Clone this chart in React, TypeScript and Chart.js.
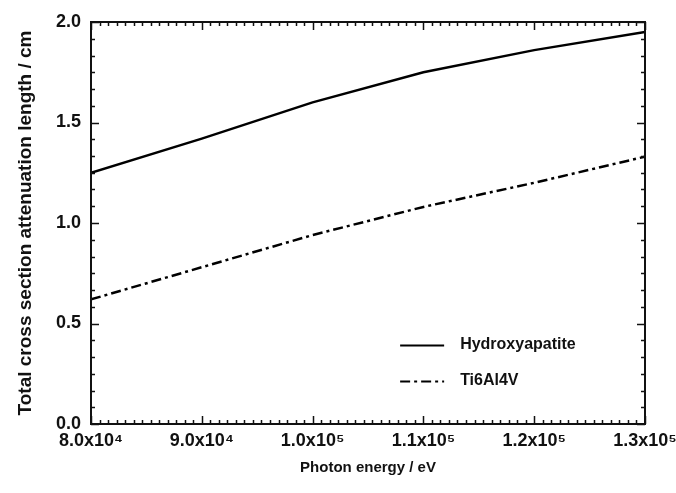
import { useEffect, useRef } from 'react';
import { Chart, registerables } from 'chart.js';

Chart.register(...registerables);

// ---- data ----
const energies = [80000, 90000, 100000, 110000, 120000, 130000];
const hydroxyapatite = [1.25, 1.42, 1.6, 1.75, 1.86, 1.95];
const ti6al4v = [0.62, 0.78, 0.94, 1.08, 1.2, 1.33];
const seriesLabels = ['Hydroxyapatite', 'Ti6Al4V'];
const xTickValues = [80000, 90000, 100000, 110000, 120000, 130000];
const xTickLabels = ['8.0x10⁴', '9.0x10⁴', '1.0x10⁵', '1.1x10⁵', '1.2x10⁵', '1.3x10⁵'];
const yTickValues = [0, 0.5, 1, 1.5, 2];
const yTickLabels = ['0.0', '0.5', '1.0', '1.5', '2.0'];
const xTitle = 'Photon energy / eV';
const yTitle = 'Total cross section attenuation length / cm';

const FONT = '"Liberation Sans", Arial, Helvetica, sans-serif';
const INK = '#111';

const frameTicksPlugin = {
  id: 'frameTicks',
  afterDatasetsDraw(chart: any) {
    const { ctx, chartArea: a, scales } = chart;
    const xs = scales.x;
    const ys = scales.y;
    ctx.save();
    ctx.strokeStyle = INK;
    ctx.lineWidth = 2;
    ctx.strokeRect(a.left, a.top, a.right - a.left, a.bottom - a.top);
    ctx.lineWidth = 1.5;
    ctx.beginPath();
    const xMajor = 10000;
    const xSub = 13;
    for (let i = 0; i <= ((xs.max - xs.min) / xMajor) * xSub; i++) {
      const v = xs.min + (i * xMajor) / xSub;
      const px = Math.round(xs.getPixelForValue(v)) + 0.5;
      const len = i % xSub === 0 ? 8 : 4;
      ctx.moveTo(px, a.bottom);
      ctx.lineTo(px, a.bottom - len);
      ctx.moveTo(px, a.top);
      ctx.lineTo(px, a.top + len);
    }
    const yMajor = 0.5;
    const ySub = 6;
    for (let i = 0; i <= ((ys.max - ys.min) / yMajor) * ySub; i++) {
      const v = ys.min + (i * yMajor) / ySub;
      const py = Math.round(ys.getPixelForValue(v)) + 0.5;
      const len = i % ySub === 0 ? 8 : 4;
      ctx.moveTo(a.left, py);
      ctx.lineTo(a.left + len, py);
      ctx.moveTo(a.right, py);
      ctx.lineTo(a.right - len, py);
    }
    ctx.stroke();
    ctx.restore();
  },
};

const legendPlugin = {
  id: 'innerLegend',
  afterDatasetsDraw(chart: any) {
    const { ctx } = chart;
    const xs = chart.scales.x;
    const ys = chart.scales.y;
    const x0 = xs.getPixelForValue(107900);
    const y0 = ys.getPixelForValue(0.393);
    const rowGap = 36;
    ctx.save();
    chart.data.datasets.forEach((ds: any, i: number) => {
      const y = Math.round(y0 + i * rowGap) + 0.5;
      ctx.strokeStyle = ds.borderColor;
      ctx.lineWidth = 2;
      ctx.setLineDash(ds.borderDash || []);
      ctx.beginPath();
      ctx.moveTo(x0, y);
      ctx.lineTo(x0 + 44, y);
      ctx.stroke();
      ctx.setLineDash([]);
      ctx.fillStyle = INK;
      ctx.font = `bold 16px ${FONT}`;
      ctx.textBaseline = 'middle';
      ctx.textAlign = 'left';
      ctx.fillText(ds.label, x0 + 60, y - 1);
    });
    ctx.restore();
  },
};

export default function App() {
  const ref = useRef<HTMLCanvasElement | null>(null);
  useEffect(() => {
    if (!ref.current) return;
    const chart = new Chart(ref.current, {
      type: 'line',
      data: {
        datasets: [
          {
            label: seriesLabels[0],
            data: energies.map((x, i) => ({ x, y: hydroxyapatite[i] })),
            borderColor: '#000',
            borderWidth: 2.5,
            pointRadius: 0,
            tension: 0,
            fill: false,
          },
          {
            label: seriesLabels[1],
            data: energies.map((x, i) => ({ x, y: ti6al4v[i] })),
            borderColor: '#000',
            borderWidth: 2.5,
            borderDash: [10, 4, 3, 4],
            pointRadius: 0,
            tension: 0,
            fill: false,
          },
        ],
      },
      options: {
        animation: false,
        responsive: false,
        events: [],
        layout: { padding: { left: 0, top: 22, right: 31, bottom: 0 } },
        plugins: {
          legend: { display: false },
          tooltip: { enabled: false },
        },
        scales: {
          x: {
            type: 'linear',
            min: 80000,
            max: 130000,
            afterBuildTicks: (s: any) => {
              s.ticks = xTickValues.map((v) => ({ value: v }));
            },
            afterFit: (s: any) => {
              s.height = 69;
              s.paddingLeft = 0;
              s.paddingRight = 0;
            },
            grid: { display: false, drawTicks: false },
            border: { display: false },
            ticks: {
              padding: 6,
              maxRotation: 0,
              autoSkip: false,
              color: INK,
              font: { family: FONT, size: 18, weight: 'bold' },
              callback: (v: any) => {
                const i = xTickValues.indexOf(Number(v));
                return i >= 0 ? xTickLabels[i] : '';
              },
            },
            title: {
              display: true,
              text: xTitle,
              color: INK,
              padding: { top: 0, bottom: 16 },
              font: { family: FONT, size: 15, weight: 'bold' },
            },
          },
          y: {
            type: 'linear',
            min: 0,
            max: 2,
            afterBuildTicks: (s: any) => {
              s.ticks = yTickValues.map((v) => ({ value: v }));
            },
            afterFit: (s: any) => {
              s.width = 91;
              s.paddingTop = 0;
              s.paddingBottom = 0;
            },
            grid: { display: false, drawTicks: false },
            border: { display: false },
            ticks: {
              padding: 10,
              color: INK,
              font: { family: FONT, size: 18, weight: 'bold' },
              callback: (v: any) => {
                const i = yTickValues.indexOf(Number(v));
                return i >= 0 ? yTickLabels[i] : '';
              },
            },
            title: {
              display: true,
              text: yTitle,
              color: INK,
              padding: { top: 14, bottom: 0 },
              font: { family: FONT, size: 19, weight: 'bold' },
            },
          },
        },
      },
      plugins: [frameTicksPlugin, legendPlugin],
    } as any);
    return () => chart.destroy();
  }, []);
  return (
    <div style={{ position: 'absolute', left: 0, top: 0, width: 676, height: 493, background: '#fff' }}>
      <canvas ref={ref} width={676} height={493} style={{ display: 'block', width: 676, height: 493 }} />
    </div>
  );
}
